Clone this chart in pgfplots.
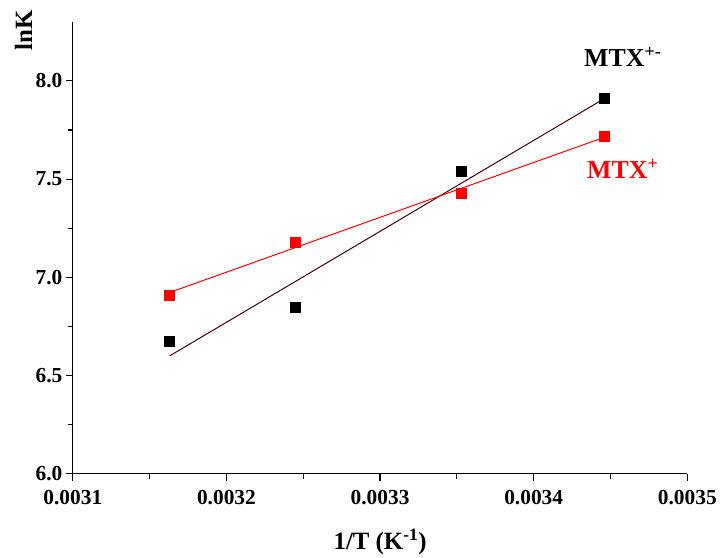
\documentclass[border=0pt]{standalone}
\usepackage{fontspec}
\setmainfont{Liberation Serif}
\usepackage{pgfplots}
\pgfplotsset{compat=1.18}
\definecolor{fitdark}{RGB}{64,0,0}
\begin{document}
\begin{tikzpicture}
\begin{axis}[
  scale only axis, width=616bp, height=453bp,
  xmin=0.0031, xmax=0.0035, ymin=6.0, ymax=8.3,
  axis x line*=bottom, axis y line*=left,
  axis line style={line width=1.2bp},
  every tick/.style={line width=1.2bp, black},
  tick align=outside, major tick length=7bp, minor tick length=5bp,
  scaled x ticks=false, scaled y ticks=false,
  xtick={0.0031,0.0032,0.0033,0.0034,0.0035},
  xticklabels={0.0031,0.0032,0.0033,0.0034,0.0035},
  ytick={6.0,6.5,7.0,7.5,8.0},
  yticklabels={6.0,6.5,7.0,7.5,8.0},
  minor x tick num=1, minor y tick num=1,
  tick label style={font=\bfseries\fontsize{21.5}{24}\selectfont},
  xticklabel style={yshift=-6bp},
  clip=false,
]
\addplot[fitdark, line width=1bp] coordinates {(0.003163,6.600) (0.003446,7.910)};
\addplot[red, line width=1bp] coordinates {(0.003163,6.923) (0.003446,7.713)};
\addplot[only marks, mark=square*, mark size=5bp, black] coordinates {
 (0.003163,6.675) (0.003245,6.85) (0.003353,7.541) (0.003446,7.91)};
\addplot[only marks, mark=square*, mark size=5bp, red] coordinates {
 (0.003163,6.91) (0.003245,7.18) (0.003353,7.426) (0.003446,7.716)};
\node[font=\bfseries\fontsize{26}{30}\selectfont, black] at (axis cs:0.003458,8.12) {MTX\textsuperscript{+-}};
\node[font=\bfseries\fontsize{26}{30}\selectfont, red] at (axis cs:0.003458,7.55) {MTX\textsuperscript{+}};
\node[font=\bfseries\fontsize{25}{28}\selectfont, rotate=90] at ([xshift=-49.5bp]rel axis cs:0,0.982) {lnK};
\node[font=\bfseries\fontsize{25}{28}\selectfont] at ([yshift=-68bp]rel axis cs:0.5,0) {1/T (K\textsuperscript{-1})};
\path ([xshift=-73bp,yshift=22bp]rel axis cs:0,1) ([xshift=31bp,yshift=-82bp]rel axis cs:1,0);
\end{axis}
\end{tikzpicture}
\end{document}
